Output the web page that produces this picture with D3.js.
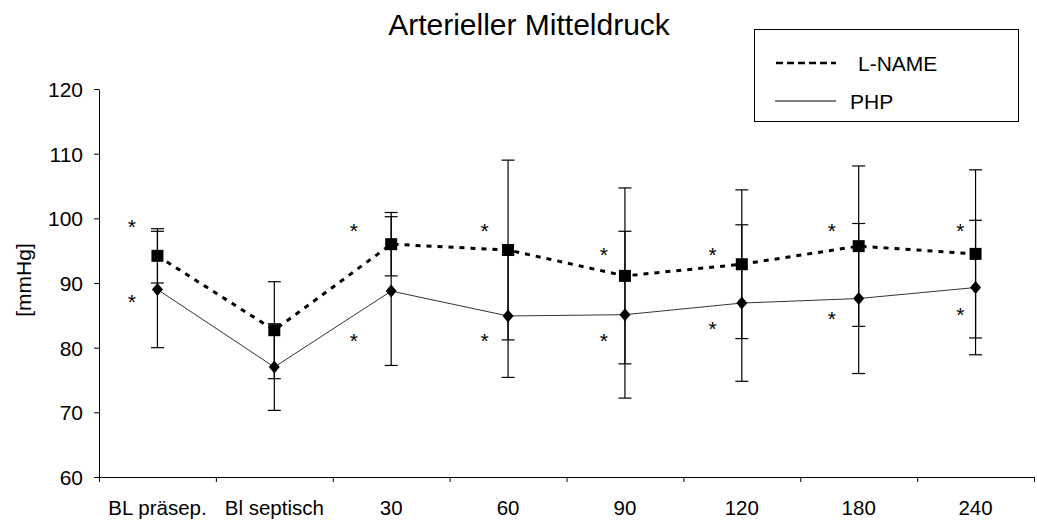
<!DOCTYPE html>
<html lang="en">
<head>
<meta charset="utf-8">
<title>Arterieller Mitteldruck</title>
<script src="https://cdn.jsdelivr.net/npm/d3@7"></script>
<style>
  body { margin: 0; background: #fff; }
  text { font-family: "Liberation Sans", Arial, sans-serif; fill: #000; }
</style>
</head>
<body>
<div id="chart"></div>
<script>
// categories and values
var categories = ["BL präsep.", "Bl septisch", "30", "60", "90", "120", "180", "240"];
var yTicks = [60, 70, 80, 90, 100, 110, 120];

var lnameMean = [94.2, 82.7, 96.0, 95.1, 91.1, 92.9, 95.7, 94.5];
var lnameSd   = [4.2, 7.5, 4.9, 13.9, 13.6, 11.5, 12.4, 13.0];
var phpMean   = [89.0, 77.0, 88.75, 84.9, 85.1, 86.9, 87.6, 89.3];
var phpSd     = [9.0, 6.7, 11.5, 9.5, 12.9, 12.1, 11.6, 10.4];

// significance stars (null = none), shift left of the category centre in band fractions
var starUpper = [99.5, null, 98.8, 98.8, 95.1, 95.1, 98.8, 98.8];
var starLower = [87.9, null, 81.8, 81.8, 81.8, 83.6, 85.2, 85.9];
var starShift = [0.22, 0, 0.32, 0.2, 0.18, 0.25, 0.23, 0.13];

var W = 1037, H = 523;
var svg = d3.select("#chart").append("svg")
  .attr("width", W).attr("height", H);

var x = d3.scaleBand().domain(categories).range([99, 1034]).paddingInner(0).paddingOuter(0);
var xb = d3.scaleLinear().domain([0, categories.length]).range([99, 1034]);
var y = d3.scaleLinear().domain([60, 120]).range([477, 89]);
var cx = function(i) { return x(categories[i]) + x.bandwidth() / 2; };

// title
svg.append("text")
  .attr("x", 529).attr("y", 35)
  .attr("text-anchor", "middle")
  .style("font-size", "30px")
  .text("Arterieller Mitteldruck");

// y axis
var yAxis = svg.append("g")
  .attr("transform", "translate(99,0)")
  .call(d3.axisLeft(y).tickValues(yTicks).tickSize(5).tickSizeOuter(0).tickPadding(11));
yAxis.selectAll("text").style("font-size", "21px").attr("dy", "0.35em");

// x axis: tick marks on band edges, labels in the bands
svg.append("g")
  .attr("transform", "translate(0,477)")
  .call(d3.axisBottom(xb).ticks(categories.length).tickSize(5).tickSizeOuter(0).tickFormat(""));
var xLab = svg.append("g")
  .attr("transform", "translate(0,477)")
  .call(d3.axisBottom(x).tickSize(0).tickPadding(23));
xLab.select(".domain").remove();
xLab.selectAll("text").style("font-size", "20.5px");

svg.selectAll(".domain, .tick line").attr("stroke", "#000").attr("stroke-width", 1);

// y label
svg.append("text")
  .attr("transform", "translate(23,280) rotate(-90)")
  .attr("text-anchor", "middle")
  .attr("dominant-baseline", "central")
  .style("font-size", "21px")
  .text("[mmHg]");

// error bars
function errBars(mean, sd) {
  var g = svg.append("g").attr("stroke", "#000").attr("stroke-width", 1.2);
  mean.forEach(function(m, i) {
    var lo = y(m - sd[i]), hi = y(m + sd[i]), xc = cx(i);
    g.append("line").attr("x1", xc).attr("x2", xc).attr("y1", lo).attr("y2", hi);
    g.append("line").attr("x1", xc - 6.5).attr("x2", xc + 6.5).attr("y1", lo).attr("y2", lo);
    g.append("line").attr("x1", xc - 6.5).attr("x2", xc + 6.5).attr("y1", hi).attr("y2", hi);
  });
}
errBars(lnameMean, lnameSd);
errBars(phpMean, phpSd);

var line = function(vals) {
  return d3.line().x(function(d, i) { return cx(i); }).y(function(d) { return y(d); })(vals);
};

svg.append("path").attr("d", line(phpMean))
  .attr("fill", "none").attr("stroke", "#333").attr("stroke-width", 1);
svg.append("path").attr("d", line(lnameMean))
  .attr("fill", "none").attr("stroke", "#000").attr("stroke-width", 3)
  .attr("stroke-dasharray", "5,6");

// markers
svg.selectAll(".sq").data(lnameMean).enter().append("rect")
  .attr("x", function(d, i) { return cx(i) - 6; })
  .attr("y", function(d) { return y(d) - 6; })
  .attr("width", 12).attr("height", 12).attr("fill", "#000");
svg.selectAll(".dm").data(phpMean).enter().append("path")
  .attr("d", "M0,-6.5L5.5,0L0,6.5L-5.5,0Z")
  .attr("transform", function(d, i) { return "translate(" + cx(i) + "," + y(d) + ")"; })
  .attr("fill", "#000");

// stars
function stars(vals) {
  vals.forEach(function(v, i) {
    if (v === null) return;
    svg.append("text")
      .attr("x", cx(i) - starShift[i] * x.bandwidth())
      .attr("y", y(v) + 12)
      .attr("text-anchor", "middle")
      .style("font-size", "21px")
      .text("*");
  });
}
stars(starUpper);
stars(starLower);

// legend
var lg = svg.append("g");
lg.append("rect").attr("x", 754.5).attr("y", 29.5).attr("width", 264).attr("height", 92)
  .attr("fill", "#fff").attr("stroke", "#000").attr("stroke-width", 1);
lg.append("line").attr("x1", 776).attr("x2", 836).attr("y1", 63).attr("y2", 63)
  .attr("stroke", "#000").attr("stroke-width", 2.5).attr("stroke-dasharray", "7,4");
lg.append("line").attr("x1", 775).attr("x2", 836).attr("y1", 101).attr("y2", 101)
  .attr("stroke", "#000").attr("stroke-width", 1);
lg.append("text").attr("x", 858).attr("y", 63).attr("dominant-baseline", "central")
  .style("font-size", "21px").text("L-NAME");
lg.append("text").attr("x", 850).attr("y", 101).attr("dominant-baseline", "central")
  .style("font-size", "21px").text("PHP");
</script>
</body>
</html>
